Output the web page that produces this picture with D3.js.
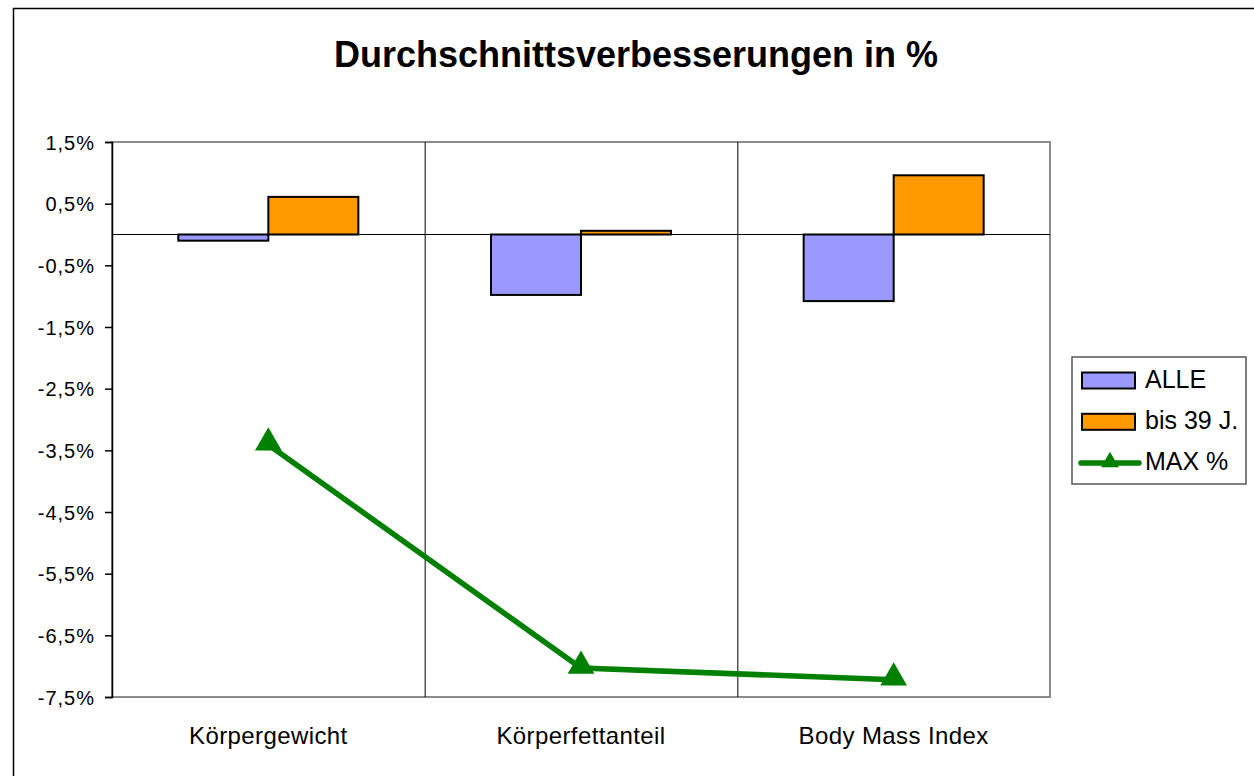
<!DOCTYPE html>
<html lang="de">
<head>
<meta charset="UTF-8">
<title>Durchschnittsverbesserungen in %</title>
<script src="https://d3js.org/d3.v7.min.js"></script>
<style>
    body { margin: 0; background: #fff; }
    svg { display: block; font-family: 'Liberation Sans', Arial, sans-serif; }
</style>
</head>
<body>
<svg id="chart" width="1254" height="776"></svg>
<script>
    const categories = ["Körpergewicht", "Körperfettanteil", "Body Mass Index"];
    const alle = [-0.1, -0.98, -1.08];
    const bis39 = [0.61, 0.06, 0.96];
    const maxPct = [-3.41, -7.03, -7.22];
    const yTicks = [1.5, 0.5, -0.5, -1.5, -2.5, -3.5, -4.5, -5.5, -6.5, -7.5];

    const svg = d3.select("#chart");
    const plot = { left: 112, top: 142, right: 1050, bottom: 697 };

    // outer frame
    svg.append("rect")
        .attr("x", 13.5).attr("y", 8.5)
        .attr("width", 1300).attr("height", 800)
        .attr("fill", "none").attr("stroke", "#000").attr("stroke-width", 1.5);

    svg.append("text")
        .attr("x", 636).attr("y", 67)
        .attr("text-anchor", "middle")
        .style("font-size", "36px").style("font-weight", "bold")
        .text("Durchschnittsverbesserungen in %");

    const x = d3.scaleBand().domain(categories).range([plot.left, plot.right]);
    const y = d3.scaleLinear().domain([-7.5, 1.5]).range([plot.bottom, plot.top]);

    const inner = d3.scaleBand().domain(["alle", "bis39"])
        .range([0, x.bandwidth()]).paddingOuter(0.737);

    // plot area border (grey)
    svg.append("rect")
        .attr("x", plot.left).attr("y", plot.top)
        .attr("width", plot.right - plot.left).attr("height", plot.bottom - plot.top)
        .attr("fill", "none").attr("stroke", "#8c8c8c").attr("stroke-width", 2);

    // category dividers
    svg.selectAll("line.div")
        .data(categories.slice(1))
        .enter().append("line")
        .attr("x1", d => x(d) + 0.5).attr("x2", d => x(d) + 0.5)
        .attr("y1", plot.top).attr("y2", plot.bottom)
        .attr("stroke", "#000").attr("stroke-width", 1);

    // y axis
    const yAxis = d3.axisLeft(y)
        .tickValues(yTicks)
        .tickSize(7)
        .tickFormat(d => d3.format(".1f")(d).replace(".", ",").replace("−", "-") + "%");
    const ya = svg.append("g")
        .attr("transform", `translate(${plot.left},0)`)
        .call(yAxis);
    ya.select(".domain").attr("stroke", "#000").attr("stroke-width", 1.5);
    ya.selectAll(".tick line").attr("stroke", "#000").attr("stroke-width", 1.5);
    ya.selectAll(".tick text")
        .attr("x", -17)
        .attr("dy", "0.36em")
        .style("font-size", "20px").style("letter-spacing", "1px")
        .style("font-family", "'Liberation Sans', Arial, sans-serif")
        .attr("fill", "#000");

    // bars
    const seriesList = [
        { key: "alle", values: alle, color: "#9999ff" },
        { key: "bis39", values: bis39, color: "#ff9900" }
    ];
    seriesList.forEach(s => {
        svg.selectAll("rect." + s.key)
            .data(categories)
            .enter().append("rect")
            .attr("class", s.key)
            .attr("x", d => x(d) + inner(s.key))
            .attr("width", inner.bandwidth())
            .attr("y", (d, i) => y(Math.max(0, s.values[i])))
            .attr("height", (d, i) => Math.abs(y(s.values[i]) - y(0)))
            .attr("fill", s.color)
            .attr("stroke", "#000").attr("stroke-width", 2);
    });

    // zero line
    svg.append("line")
        .attr("x1", plot.left).attr("x2", plot.right)
        .attr("y1", y(0)).attr("y2", y(0))
        .attr("stroke", "#000").attr("stroke-width", 1.2);

    // MAX % line
    const cx = d => x(d) + x.bandwidth() / 2;
    svg.append("path")
        .datum(categories)
        .attr("d", d3.line().x(d => cx(d)).y((d, i) => y(maxPct[i])))
        .attr("fill", "none").attr("stroke", "#008000").attr("stroke-width", 5.5);
    const tri = d3.symbol().type(d3.symbolTriangle).size(310);
    svg.selectAll("path.marker")
        .data(categories)
        .enter().append("path")
        .attr("class", "marker")
        .attr("transform", (d, i) => `translate(${cx(d)},${y(maxPct[i]) - 2})`)
        .attr("d", tri)
        .attr("fill", "#008000");

    // category labels
    svg.selectAll("text.cat")
        .data(categories)
        .enter().append("text")
        .attr("x", d => cx(d)).attr("y", 744)
        .attr("text-anchor", "middle")
        .style("font-size", "24px").style("letter-spacing", "0.4px")
        .text(d => d);

    // legend
    const lg = svg.append("g").attr("transform", "translate(1072,357)");
    lg.append("rect").attr("width", 174).attr("height", 127)
        .attr("fill", "#fff").attr("stroke", "#555").attr("stroke-width", 1.5);
    const legendItems = [
        { label: "ALLE", color: "#9999ff", type: "bar" },
        { label: "bis 39 J.", color: "#ff9900", type: "bar" },
        { label: "MAX %", color: "#008000", type: "line" }
    ];
    legendItems.forEach((it, i) => {
        const cy = 23.5 + i * 41.3;
        if (it.type === "bar") {
            lg.append("rect").attr("x", 10).attr("y", cy - 8).attr("width", 53).attr("height", 16)
                .attr("fill", it.color).attr("stroke", "#000").attr("stroke-width", 2);
        } else {
            lg.append("line").attr("x1", 9).attr("x2", 67).attr("y1", cy).attr("y2", cy)
                .attr("stroke", it.color).attr("stroke-width", 5.5).attr("stroke-linecap", "round");
            lg.append("path").attr("transform", `translate(38,${cy - 1})`)
                .attr("d", d3.symbol().type(d3.symbolTriangle).size(140)).attr("fill", it.color);
        }
        lg.append("text").attr("x", 73).attr("y", cy + 7)
            .style("font-size", "25px").text(it.label);
    });
</script>
</body>
</html>
